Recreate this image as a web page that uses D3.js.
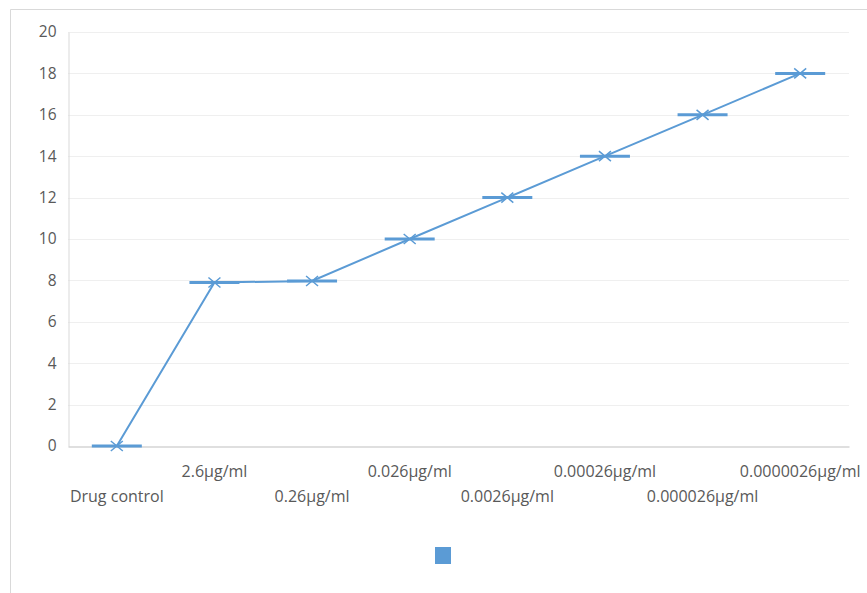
<!DOCTYPE html>
<html>
<head>
<meta charset="utf-8">
<script src="https://cdn.jsdelivr.net/npm/d3@7"></script>
<style>
  html, body { margin: 0; padding: 0; background: #fff; }
  svg { display: block; }
  text { font-family: "Open Sans", "Noto Sans", sans-serif; fill: #595959; }
</style>
</head>
<body>
<svg id="chart" width="867" height="593"></svg>
<script>
// Dilution series (categories) and measured response values
const categories = ["Drug control", "2.6μg/ml", "0.26μg/ml", "0.026μg/ml", "0.0026μg/ml",
                    "0.00026μg/ml", "0.000026μg/ml", "0.0000026μg/ml"];
const values = [0, 7.9, 7.97, 10, 12, 14, 16, 18];
const yTicks = [0, 2, 4, 6, 8, 10, 12, 14, 16, 18, 20];

const blue = "#5b9bd5";
const svg = d3.select("#chart");

// Chart frame (only top and left edges fall inside the view)
svg.append("path")
  .attr("d", "M10.5,593 V9.5 H867")
  .attr("fill", "none").attr("stroke", "#d9d9d9").attr("stroke-width", 1);

const plot = { left: 68, right: 849, top: 32, bottom: 446 };

const x = d3.scaleBand().domain(categories).range([plot.left, plot.right]);
const y = d3.scaleLinear().domain([0, 20]).range([plot.bottom, plot.top]);

// Horizontal gridlines
svg.append("g").selectAll("line").data(yTicks.filter(t => t > 0)).join("line")
  .attr("x1", plot.left).attr("x2", plot.right)
  .attr("y1", d => Math.round(y(d)) + 0.5).attr("y2", d => Math.round(y(d)) + 0.5)
  .attr("stroke", "#efefef").attr("stroke-width", 1);

// Y axis
const yAxis = svg.append("g")
  .attr("transform", `translate(${plot.left + 0.5},0)`)
  .call(d3.axisLeft(y).tickValues(yTicks).tickSize(0).tickPadding(12));
yAxis.select(".domain").attr("stroke", "#d9d9d9");
yAxis.selectAll("text").style("font-size", "15.5px").attr("fill", "#595959");

// X axis with staggered two-row labels
const xAxis = svg.append("g")
  .attr("transform", `translate(0,${Math.round(plot.bottom) + 0.5})`)
  .call(d3.axisBottom(x).tickSize(0).tickPadding(0));
xAxis.select(".domain").attr("stroke", "#bfbfbf");
xAxis.selectAll("text")
  .style("font-size", "16px").attr("fill", "#595959")
  .attr("dy", null)
  .attr("y", (d, i) => i % 2 === 1 ? 30 : 55);

const cx = d => x(d) + x.bandwidth() / 2;

// Connecting line
svg.append("path")
  .datum(values)
  .attr("fill", "none").attr("stroke", blue).attr("stroke-width", 2)
  .attr("d", d3.line().x((d, i) => cx(categories[i])).y(d => y(d)));

// Horizontal dash markers
svg.append("g").selectAll("line").data(values).join("line")
  .attr("x1", (d, i) => cx(categories[i]) - 25)
  .attr("x2", (d, i) => cx(categories[i]) + 25)
  .attr("y1", d => y(d)).attr("y2", d => y(d))
  .attr("stroke", blue).attr("stroke-width", 3);

// X markers
svg.append("g").selectAll("path").data(values).join("path")
  .attr("transform", (d, i) => `translate(${cx(categories[i])},${y(d)})`)
  .attr("d", "M-6,-5 L6,5 M-6,5 L6,-5")
  .attr("fill", "none").attr("stroke", blue).attr("stroke-width", 1.5);

// Legend swatch
svg.append("rect")
  .attr("x", 435).attr("y", 547).attr("width", 16).attr("height", 17)
  .attr("fill", blue);
</script>
</body>
</html>
